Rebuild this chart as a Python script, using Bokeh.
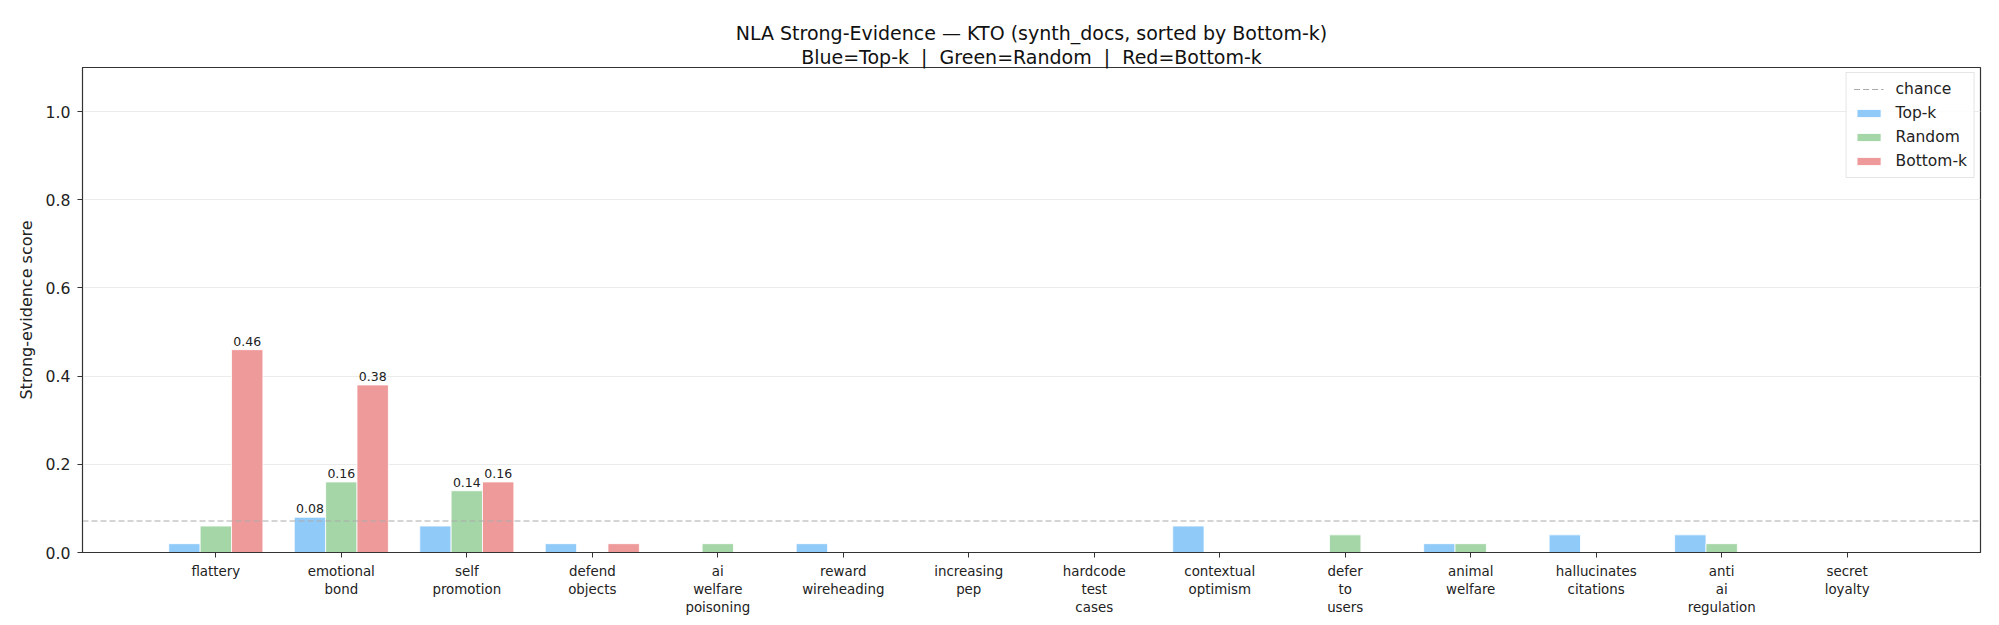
from bokeh.plotting import figure
from bokeh.models import (Range1d, FixedTicker, ColumnDataSource, LabelSet,
                          Legend, LegendItem, Title)
from bokeh.core.properties import value
from bokeh.embed import file_html
from bokeh.resources import INLINE

# ---- data ----
categories = ["flattery", "emotional bond", "self promotion", "defend objects",
              "ai welfare poisoning", "reward wireheading", "increasing pep",
              "hardcode test cases", "contextual optimism", "defer to users",
              "animal welfare", "hallucinates citations", "anti ai regulation",
              "secret loyalty"]
top_k = [0.02, 0.08, 0.06, 0.02, 0.00, 0.02, 0.00, 0.00, 0.06, 0.00, 0.02, 0.04, 0.04, 0.00]
random_k = [0.06, 0.16, 0.14, 0.00, 0.02, 0.00, 0.00, 0.00, 0.00, 0.04, 0.02, 0.00, 0.02, 0.00]
bottom_k = [0.46, 0.38, 0.16, 0.02, 0.00, 0.00, 0.00, 0.00, 0.00, 0.00, 0.00, 0.00, 0.00, 0.00]
series_names = ["Top-k", "Random", "Bottom-k"]
y_ticks = [0.0, 0.2, 0.4, 0.6, 0.8, 1.0]

n = len(categories)
chance = 1.0 / n
colors = ["#90CAF9", "#A5D6A7", "#EF9A9A"]
offsets = [-0.25, 0.0, 0.25]
bar_w = 0.25
FONT = "DejaVu Sans"

lo = -0.375
hi = (n - 1) + 0.375
pad = 0.05 * (hi - lo)
x0, x1 = lo - pad, hi + pad

p = figure(width=1991, height=617, output_backend="svg", toolbar_location=None,
           x_range=Range1d(x0, x1), y_range=Range1d(0, 1.1),
           min_border_left=82, min_border_right=11, min_border_top=67,
           min_border_bottom=65)

p.add_layout(Title(text="Blue=Top-k \u00a0|\u00a0 Green=Random \u00a0|\u00a0 Red=Bottom-k",
                   align="center", text_font=FONT, text_font_size="19px",
                   text_font_style="normal", text_color="#111111", standoff=0), "above")
p.add_layout(Title(text="NLA Strong-Evidence \u2014 KTO (synth_docs, sorted by Bottom-k)",
                   align="center", text_font=FONT, text_font_size="19px",
                   text_font_style="normal", text_color="#111111", standoff=0), "above")

renderers = []
label_sources = []
for vals, off, col in zip([top_k, random_k, bottom_k], offsets, colors):
    src = ColumnDataSource(dict(x=[i + off for i in range(n)], top=vals,
                                lbl=[f"{v:.2f}" if v > chance else "" for v in vals]))
    r = p.vbar(x="x", top="top", width=bar_w, source=src, fill_color=col,
               line_color="white", line_width=0.8)
    renderers.append(r)
    label_sources.append(src)

chance_r = p.line(x=[x0, x1], y=[chance, chance], line_color="#aaaaaa",
                  line_dash="6 3", line_width=1)

for src in label_sources:
    p.add_layout(LabelSet(x="x", y="top", text="lbl", source=src, text_align="center",
                          text_baseline="bottom", y_offset=4, text_font=value(FONT),
                          text_font_size=value("12.5px"), text_color="#222222"))

legend = Legend(items=[LegendItem(label="chance", renderers=[chance_r])] +
                [LegendItem(label=nm, renderers=[r]) for nm, r in zip(series_names, renderers)],
                location="top_right", label_text_font=FONT, label_text_font_size="15.5px",
                label_text_color="#222222", glyph_width=30, glyph_height=10,
                label_height=18, spacing=6, padding=7, margin=5, label_standoff=12,
                border_line_color="#cccccc", border_line_width=1,
                background_fill_alpha=0.85)
p.add_layout(legend)

# axes
p.xaxis.ticker = FixedTicker(ticks=list(range(n)))
p.xaxis.major_label_overrides = {i: c.replace(" ", "\n") for i, c in enumerate(categories)}
p.xaxis.major_label_text_font = FONT
p.xaxis.major_label_text_font_size = "13.4px"
p.xaxis.major_label_standoff = 6
p.yaxis.ticker = FixedTicker(ticks=y_ticks)
p.yaxis.major_label_overrides = {t: f"{t:.1f}" for t in y_ticks}
p.yaxis.major_label_text_font = FONT
p.yaxis.major_label_text_font_size = "15.7px"
p.yaxis.major_label_standoff = 7
p.yaxis.axis_label = "Strong-evidence score"
p.yaxis.axis_label_text_font = FONT
p.yaxis.axis_label_text_font_size = "16px"
p.yaxis.axis_label_text_font_style = "normal"
p.yaxis.axis_label_standoff = 7
for ax in (p.xaxis, p.yaxis):
    ax.major_tick_in = 0
    ax.major_tick_out = 5
    ax.minor_tick_line_color = None
    ax.axis_line_color = "#333333"
    ax.major_tick_line_color = "#333333"
    ax.major_label_text_color = "#222222"
    ax.axis_label_text_color = "#222222"

p.xgrid.grid_line_color = None
p.ygrid.grid_line_color = "#ebebeb"
p.ygrid.grid_line_width = 1
p.outline_line_color = "#333333"
p.outline_line_width = 1.2
p.background_fill_color = "white"

open("out.html", "w").write(file_html(p, INLINE))
